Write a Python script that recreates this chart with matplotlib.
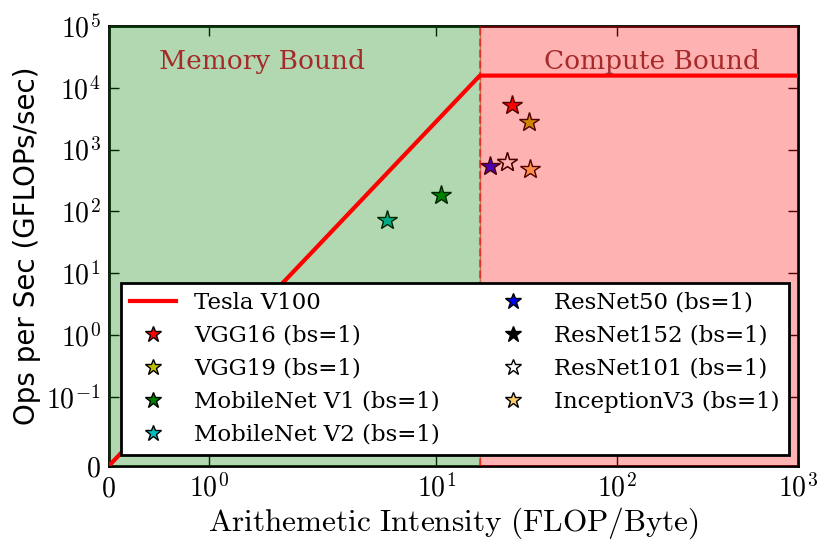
import numpy as np
import matplotlib
matplotlib.use('Agg')
import matplotlib.pyplot as plt

plt.rcParams['mathtext.fontset'] = 'cm'

# Roofline de la Tesla V100
ancho_banda = 900.0       # GB/s
pico_flops = 15700.0      # GFLOPs/s
punto_quiebre = pico_flops / ancho_banda

roof_x = [0, punto_quiebre, 1000]
roof_y = [0, pico_flops, pico_flops]

modelos = ['VGG16 (bs=1)', 'VGG19 (bs=1)', 'MobileNet V1 (bs=1)', 'MobileNet V2 (bs=1)',
           'ResNet50 (bs=1)', 'ResNet152 (bs=1)', 'ResNet101 (bs=1)', 'InceptionV3 (bs=1)']
intensidad = [26.3, 32.7, 10.7, 5.35, 19.8, 24.5, 24.5, 33.2]
ops = [5170, 2840, 187, 73.5, 551, 622, 622, 486]
colores = ['r', (0.75, 0.75, 0), (0, 0.5, 0), (0, 0.75, 0.75), 'b', 'k', 'w', '#ffcc66']

x_ticks = [0, 1, 10, 100, 1000]
x_labels = ['$0$', '$10^{0}$', '$10^{1}$', '$10^{2}$', '$10^{3}$']
y_ticks = [0, 0.1, 1, 10, 100, 1000, 1e4, 1e5]
y_labels = ['$0$', '$10^{-1}$', '$10^{0}$', '$10^{1}$', '$10^{2}$', '$10^{3}$', '$10^{4}$', '$10^{5}$']

fig = plt.figure(figsize=(8.31, 5.5), dpi=100)
ax = fig.add_subplot(111)
fig.subplots_adjust(left=0.131, right=0.960, top=0.953, bottom=0.153)

ax.plot(roof_x, roof_y, color='r', lw=3, label='Tesla V100', zorder=4)

for m, xi, yi, c in zip(modelos, intensidad, ops, colores):
    ax.plot(xi, yi, '*', color=c, markersize=15, markeredgecolor='k',
            markeredgewidth=1, label=m, zorder=2)

ax.axvspan(0, punto_quiebre, color='g', alpha=0.3, zorder=3)
ax.axvspan(punto_quiebre, 1000, color='r', alpha=0.3, zorder=3)
ax.axvline(punto_quiebre, color='r', ls='--', lw=1.5, alpha=0.6, zorder=3)

ax.text(0.222, 0.92, 'Memory Bound', transform=ax.transAxes, ha='center', va='center',
        color='brown', fontsize=19, family='DejaVu Serif', zorder=4)
ax.text(0.788, 0.92, 'Compute Bound', transform=ax.transAxes, ha='center', va='center',
        color='brown', fontsize=19, family='DejaVu Serif', zorder=4)

ax.set_xscale('symlog', linthresh=2, linscale=1)
ax.set_yscale('symlog', linthresh=0.1, linscale=1)
ax.set_xlim(0, 1000)
ax.set_ylim(0, 1e5)
ax.set_xticks(x_ticks)
ax.set_xticklabels(x_labels)
ax.set_yticks(y_ticks)
ax.set_yticklabels(y_labels)
ax.xaxis.set_minor_locator(matplotlib.ticker.NullLocator())
ax.yaxis.set_minor_locator(matplotlib.ticker.NullLocator())
ax.tick_params(direction='in', length=7, width=1, labelsize=20, top=True, right=True, pad=6)
for s in ax.spines.values():
    s.set_linewidth(2)

ax.set_xlabel(r'$\mathrm{Arithemetic\ Intensity\ (FLOP/Byte)}$', fontsize=22.5, labelpad=2)
ax.set_ylabel('Ops per Sec (GFLOPs/sec)', fontsize=20, family='DejaVu Sans')

leg = ax.legend(loc='lower center', ncol=2, bbox_to_anchor=(0.502, 0.025),
                numpoints=1, markerscale=0.8, fancybox=False,
                framealpha=1, prop={'family': 'DejaVu Serif', 'size': 16.5},
                borderaxespad=0, labelspacing=0.48, columnspacing=2.2)
leg.get_frame().set_edgecolor('k')
leg.get_frame().set_linewidth(2)
leg.set_zorder(10)

plt.savefig('out.png', dpi=100, facecolor='white')
